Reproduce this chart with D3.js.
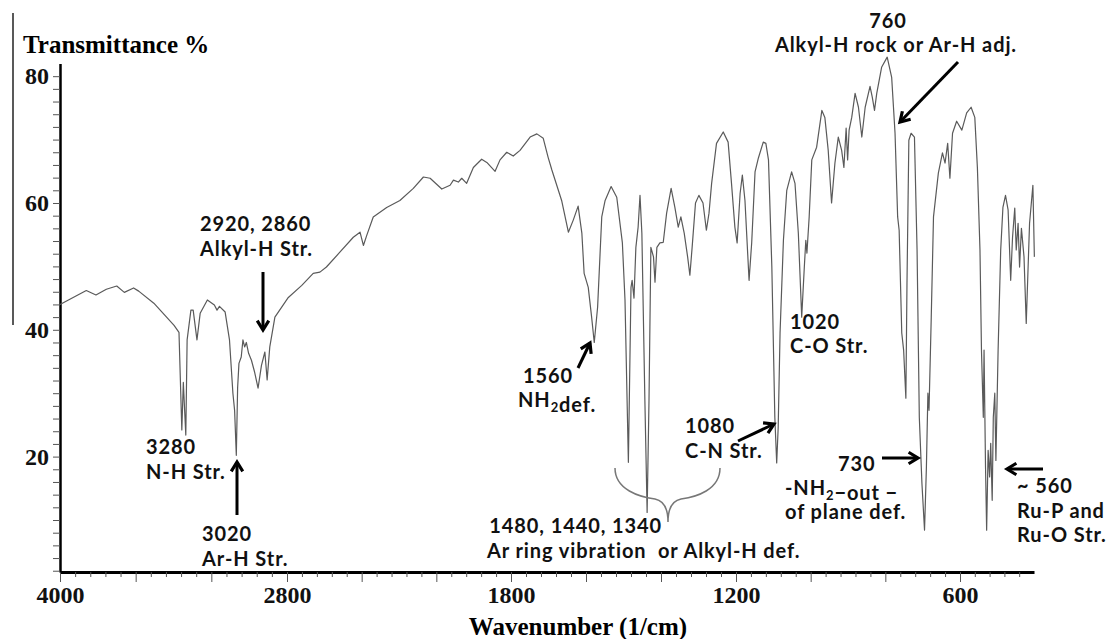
<!DOCTYPE html>
<html>
<head>
<meta charset="utf-8">
<script src="https://cdn.jsdelivr.net/npm/d3@7"></script>
<style>
  body { margin: 0; background: #fff; }
  .axis-label { font-family: "Liberation Serif", "Times New Roman", serif; font-weight: bold; }
  .note { font-family: Lato, "Open Sans", sans-serif; font-weight: bold; font-size: 20px; fill: #111; letter-spacing: 0.9px; white-space: pre; }
</style>
</head>
<body>
<div id="chart"></div>
<script>
// espectro IR: numero de onda (1/cm) y transmitancia (%)
const wavenumber = [4000,3861,3810,3755,3700,3660,3611,3584,3504,3397,3371,3356,3348,
  3335,3328,3308,3296,3276,3259,3221,3184,3170,3157,
  3127,3104,3086,3077,3068,3061,3054,3042,3033,3024,
  3015,3003,2988,2971,2953,2935,2917,2905,2891,2864,
  2794,2734,2683,2653,2624,2565,2504,2474,2459,2444,
  2415,2355,2296,2236,2191,2161,2109,2072,2057,2035,
  2020,1998,1968,1931,1908,1871,1849,1819,1794,1776,
  1749,1731,1714,1701,1691,1665,1647,1634,1621,1611,
  1605,1594,1585,1578,1569,1558,1549,1533,1518,1503,
  1496,1487,1480,1477,1472,1467,1461,1456,1451,1443,
  1437,1432,1427,1420,1416,1411,1403,1394,1385,1373,
  1363,1354,1347,1338,1329,1323,1317,1308,1299,1288,
  1279,1272,1265,1252,1234,1221,1212,1203,1197,1189,
  1183,1176,1165,1158,1149,1140,1127,1120,1113,1104,
  1096,1091,1087,1082,1073,1064,1051,1042,1033,1024,
  1017,1013,1010,1004,997,984,970,962,953,944,
  935,926,917,911,905,901,897,890,881,872,
  863,854,841,835,829,823,810,795,783,774,
  767,763,756,751,745,742,737,731,722,715,
  709,702,695,690,686,683,677,671,658,647,
  640,633,627,620,609,595,582,570,560,553,
  546,542,537,535,531,528,524,520,517,513,
  510,506,503,497,490,484,477,470,463,458,
  452,448,443,439,434,427,421,412,403,399];

const transmittance = [44.0,46.2,45.5,46.4,46.9,45.9,46.6,46.1,44.2,40.7,39.6,24.2,31.7,
  23.4,38.4,43.1,43.1,38.4,42.6,44.7,43.9,43.1,43.7,
  42.8,38.4,30.0,27.3,20.2,30.9,34.7,35.7,38.4,37.3,
  38.0,36.3,35.2,33.3,30.8,34.4,36.5,32.1,37.3,42.0,
  45.1,47.0,48.9,49.1,49.9,52.2,54.6,55.4,53.3,54.9,
  57.8,59.3,60.4,62.3,64.1,63.9,62.2,62.8,63.6,63.3,
  63.9,63.1,65.6,66.9,66.4,65.0,66.8,68.0,67.4,68.3,
  70.4,70.9,70.2,67.2,65.2,60.4,55.4,57.3,59.5,55.2,
  48.9,46.7,42.0,38.0,43.6,57.8,60.4,62.6,60.9,53.7,
  44.7,19.1,46.7,47.8,45.0,53.0,56.2,61.2,55.2,28.9,
  11.2,28.9,53.0,51.5,47.5,53.0,53.7,53.8,58.4,62.3,
  59.3,56.2,57.8,55.2,51.5,48.6,53.0,60.0,61.2,60.0,
  55.7,58.4,63.1,69.4,71.2,69.6,63.1,56.2,53.7,61.5,
  64.4,60.4,47.8,53.7,64.9,67.1,69.6,69.4,66.8,49.9,
  26.2,19.0,24.6,39.5,54.1,62.0,64.9,63.1,55.2,42.0,
  49.9,54.1,52.1,57.8,66.8,68.8,74.6,73.5,68.3,60.0,
  66.3,70.4,68.3,65.6,71.8,66.8,71.5,73.5,77.3,75.1,
  70.4,75.1,78.4,76.7,74.6,77.3,81.4,83.0,79.8,71.0,
  57.8,55.7,39.5,36.8,29.2,47.4,69.9,71.0,70.4,52.6,
  26.2,15.8,8.4,18.3,30.0,27.3,42.0,57.8,64.7,67.9,
  66.3,69.4,63.9,71.0,72.9,71.5,74.2,75.1,73.5,65.6,
  52.6,36.8,26.2,36.8,18.3,8.4,21.0,16.8,22.1,13.1,
  26.2,30.0,19.4,36.8,52.6,59.3,61.2,58.9,47.8,54.6,
  59.2,52.6,56.8,49.9,56.0,51.5,41.0,56.8,62.8,51.5];

// etiquetas de los ejes
const xTickLabels = [4000, 2800, 1800, 1200, 600];
const yTickLabels = [20, 40, 60, 80];

const width = 1110, height = 639;

const svg = d3.select("#chart").append("svg")
    .attr("width", width)
    .attr("height", height);

// el eje original no es lineal: cada etiqueta esta a la misma distancia
let x = d3.scaleLinear()
    .domain([4000, 2800, 1800, 1200, 600, 400])
    .range([60, 287, 511, 736, 960, 1034]);

let y = d3.scaleLinear()
    .domain([1.8, 82])
    .range([572, 63.5]);

// ticks menores: 15 por tramo entre etiquetas, mas cuatro despues de 600
let xTicks = [];
for (let i = 0; i < xTickLabels.length - 1; i++) {
    let a = xTickLabels[i], b = xTickLabels[i + 1];
    for (let k = 0; k < 15; k++) xTicks.push({v: a + (b - a) * k / 15, k: k});
}
xTicks.push({v: 600, k: 0});
for (let k = 1; k <= 4; k++) xTicks.push({v: 600 - 40 * k, k: k});

let xAxis = svg.append("g")
    .attr("transform", "translate(0," + y.range()[0] + ")")
    .call(d3.axisBottom(x)
        .tickValues(xTicks.map(d => d.v))
        .tickSizeOuter(0)
        .tickFormat(d => xTickLabels.includes(Math.round(d)) ? Math.round(d) : ""));

xAxis.select(".domain").attr("stroke-width", 3);
xAxis.selectAll(".tick line")
    .data(xTicks)
    .attr("y2", d => d.k % 5 === 0 ? 10 : 5)
    .attr("stroke", "#555");
xAxis.selectAll(".tick text")
    .attr("class", "axis-label")
    .attr("y", 31).attr("dy", 0)
    .style("font-size", "24px")
    .attr("fill", "#111");

let yAxis = svg.append("g")
    .attr("transform", "translate(" + x.range()[0] + ",0)")
    .call(d3.axisLeft(y)
        .tickValues(d3.range(2, 81, 2))
        .tickSize(7)
        .tickSizeOuter(0)
        .tickPadding(4)
        .tickFormat(d => yTickLabels.includes(d) ? d : ""));

yAxis.select(".domain").attr("stroke-width", 2.5);
yAxis.selectAll(".tick line").attr("stroke", "#555");
yAxis.selectAll(".tick text")
    .attr("class", "axis-label")
    .style("font-size", "24px")
    .attr("fill", "#111");

// titulos de los ejes
svg.append("text")
    .attr("class", "axis-label")
    .attr("x", 23).attr("y", 53)
    .style("font-size", "25px")
    .text("Transmittance %");

svg.append("text")
    .attr("class", "axis-label")
    .attr("x", 578).attr("y", 635)
    .attr("text-anchor", "middle")
    .style("font-size", "25px")
    .text("Wavenumber (1/cm)");

// linea suelta a la izquierda de la figura original
svg.append("line")
    .attr("x1", 13).attr("x2", 13)
    .attr("y1", 13).attr("y2", 325)
    .attr("stroke", "#222").attr("stroke-width", 1.5);

// espectro
let line = d3.line()
    .x(d => x(d[0]))
    .y(d => y(d[1]));

svg.append("path")
    .datum(d3.zip(wavenumber, transmittance))
    .attr("fill", "none")
    .attr("stroke", "#5a5a5a")
    .attr("stroke-width", 1.2)
    .attr("stroke-linejoin", "round")
    .attr("d", line);

// anotaciones
const notes = svg.append("g");

function note(xp, yp, parts, anchor) {
    let t = notes.append("text")
        .attr("class", "note")
        .attr("x", xp).attr("y", yp)
        .attr("text-anchor", anchor || "start");
    parts.forEach(p => {
        if (typeof p === "string") {
            t.append("tspan").text(p);
        } else {
            // subindice
            t.append("tspan").attr("dy", 5).style("font-size", "13px").text(p.low);
            t.append("tspan").attr("dy", -5).text("");
        }
    });
}

function arrow(x1, y1, x2, y2) {
    let ang = Math.atan2(y2 - y1, x2 - x1), L = 11, s = 0.55;
    notes.append("line")
        .attr("x1", x1).attr("y1", y1).attr("x2", x2).attr("y2", y2)
        .attr("stroke", "#000").attr("stroke-width", 3);
    notes.append("path")
        .attr("d", "M" + (x2 - L * Math.cos(ang - s)) + "," + (y2 - L * Math.sin(ang - s)) +
            "L" + x2 + "," + y2 +
            "L" + (x2 - L * Math.cos(ang + s)) + "," + (y2 - L * Math.sin(ang + s)))
        .attr("fill", "none").attr("stroke", "#000")
        .attr("stroke-width", 3.2).attr("stroke-linejoin", "miter");
}

note(200, 231, ["2920, 2860"]);
note(200, 256, ["Alkyl-H Str."]);
arrow(263, 272, 263, 330);

note(146, 454, ["3280"]);
note(146, 479, ["N-H Str."]);
arrow(237, 515, 237, 462);
note(202, 541, ["3020"]);
note(202, 566, ["Ar-H Str."]);

note(523, 383, ["1560"]);
note(518, 407, ["NH", {low: "2"}, "def."]);
arrow(578, 368, 590, 343);

note(685, 433, ["1080"]);
note(685, 458, ["C-N Str."]);
arrow(738, 441, 774, 424);

notes.append("path")
    .attr("d", "M615,468 C615,490 640,497 655,499 C665,501 668,510 668,522 " +
        "C668,510 671,501 681,499 C696,497 720,490 720,468")
    .attr("fill", "none").attr("stroke", "#777").attr("stroke-width", 1.5);

note(662, 533, ["1480, 1440, 1340"], "end");
note(487, 558, ["Ar ring vibration  or Alkyl-H def."]);

note(790, 329, ["1020"]);
note(790, 353, ["C-O Str."]);

note(888, 28, ["760"], "middle");
note(896, 52, ["Alkyl-H rock or Ar-H adj."], "middle");
arrow(958, 62, 900, 122);

note(838, 471, ["730"]);
note(785, 495, ["-NH", {low: "2"}, "\u2212out \u2212"]);
note(785, 519, ["of plane def."]);
arrow(882, 458, 918, 458);

arrow(1043, 469, 1007, 469);
note(1017, 493, ["~ 560"]);
note(1017, 518, ["Ru-P and"]);
note(1017, 542, ["Ru-O Str."]);
</script>
</body>
</html>
